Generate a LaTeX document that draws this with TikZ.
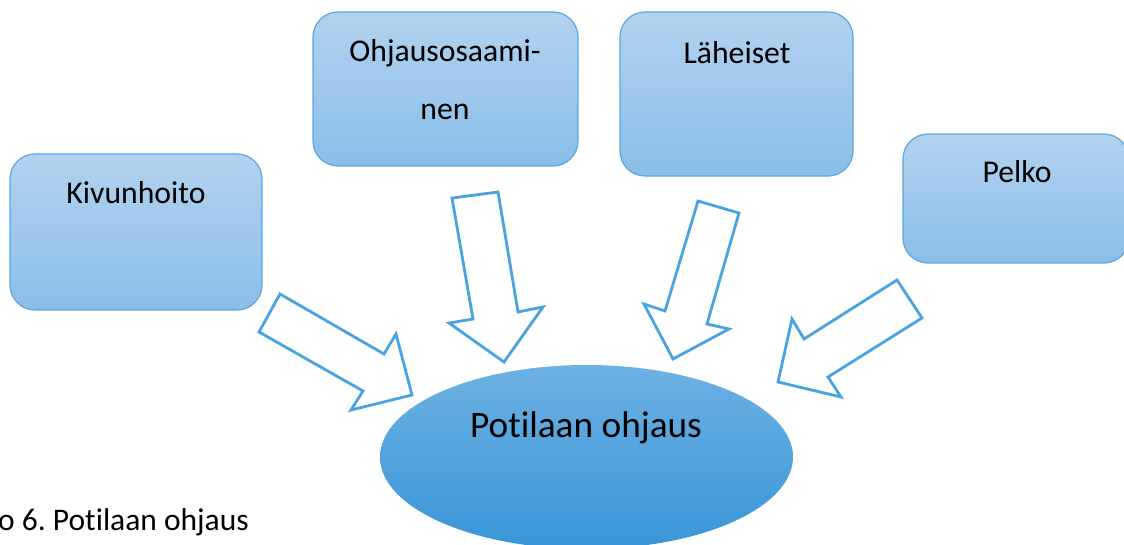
\documentclass[tikz,border=0pt]{standalone}
\usepackage{fontspec}
\setmainfont[Ligatures=NoCommon]{Carlito}
\frenchspacing
\usetikzlibrary{shapes.geometric}
\definecolor{boxtop}{HTML}{B2D2EF}
\definecolor{boxbot}{HTML}{8ABEE8}
\definecolor{edge}{HTML}{5BA6DE}
\definecolor{elltop}{HTML}{6DB1E2}
\definecolor{ellbot}{HTML}{3895D8}
\definecolor{arrowc}{HTML}{4AA3DF}
\tikzset{
  topic/.style={draw=edge, line width=1.2pt, rounded corners=25pt, top color=boxtop, bottom color=boxbot, inner sep=0pt},
  topictext/.style={anchor=base, font=\fontsize{31.7}{31.7}\selectfont, text=black, inner sep=0pt},
  blockarrow/.style={draw=arrowc, line width=2.8pt, fill=white, line join=miter},
  centre/.style={ellipse, draw=none, top color=elltop, bottom color=ellbot, inner sep=0pt},
}
\begin{document}
\begin{tikzpicture}[x=1pt,y=-1pt]
\useasboundingbox (0,0) rectangle (1124,544);
\clip (0,0) rectangle (1124,544);
% boxes
\node[topic, minimum width=252pt, minimum height=156pt] (kivu) at (136,232) {};
\node[topic, minimum width=265pt, minimum height=154pt] (ohja) at (445.5,89) {};
\node[topic, minimum width=233pt, minimum height=164pt] (lahe) at (736.5,94) {};
\node[topic, minimum width=226pt, minimum height=129pt] (pelk) at (1016,198.5) {};
\node[topictext] (kivut) at (136,203) {Kivunhoito};
\node[topictext] (ohjat1) at (445,61) {Ohjausosaami-};
\node[topictext] (ohjat2) at (445,119) {nen};
\node[topictext] (lahet) at (737,63) {Läheiset};
\node[topictext] (pelkt) at (1017,182) {Pelko};
% centre ellipse
\node[centre, minimum width=413pt, minimum height=184pt] (pot) at (586.5,457) {};
\node[anchor=base, font=\fontsize{37.3}{37.3}\selectfont, inner sep=0pt] (pott) at (586,437) {Potilaan ohjaus};
% block arrows
\draw[blockarrow] (280,294) -- (384,354) -- (396,334) -- (412,395) -- (351,410) -- (363,391) -- (259,332) -- cycle;
\draw[blockarrow] (452,198) -- (498,192) -- (518,312) -- (543,307) -- (504,362) -- (449,323) -- (473,319) -- cycle;
\draw[blockarrow] (698,201) -- (739,213) -- (707,324) -- (729,329) -- (673,359) -- (644,304) -- (665,311) -- cycle;
\draw[blockarrow] (897,280) -- (922,318) -- (828,377) -- (841,397) -- (778,382) -- (792,319) -- (804,339) -- cycle;
% caption
\node[anchor=base west, font=\fontsize{31.5}{31.5}\selectfont, inner sep=0pt] (cap) at (-2,530) {o 6. Potilaan ohjaus};
\end{tikzpicture}
\end{document}
